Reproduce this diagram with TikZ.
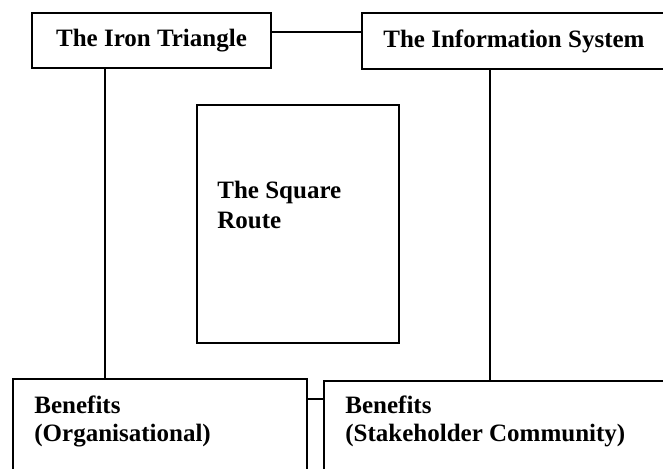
\documentclass[tikz,border=0pt]{standalone}
\usepackage{fontspec}
\setmainfont{Liberation Serif}
\begin{document}
\begin{tikzpicture}[x=0.5pt, y=-0.5pt,
    box/.style={draw, line width=0.9pt, inner sep=0pt, outer sep=0pt, anchor=north west},
    lbl/.style={font=\bfseries\fontsize{12.5}{14}\selectfont, align=left, inner sep=0pt, anchor=west}]
    \useasboundingbox (0,0) rectangle (663,468);

    \node[box, minimum width=119.5pt, minimum height=27.5pt, font=\bfseries\fontsize{12.5}{14}\selectfont] (iron) at (32,13) {The Iron Triangle};
    \node[box, minimum width=169pt, minimum height=28pt] (info) at (362,13) {};
    \node[box, minimum width=101pt, minimum height=119pt] (square) at (197,105) {};
    \node[box, minimum width=147pt, minimum height=60.5pt] (benorg) at (13,379) {};
    \node[box, minimum width=188pt, minimum height=59.5pt] (benstk) at (324,381) {};

    \node[lbl] (infotxt) at ([xshift=10.5pt]info.west) {The Information System};
    \node[lbl, font=\bfseries\fontsize{12.5}{15}\selectfont] (squaretxt) at ([xshift=10pt, yshift=-50pt]square.north west) {The Square\\Route};
    \node[lbl] (benorgtxt) at ([xshift=10.5pt, yshift=-21pt]benorg.north west) {Benefits\\(Organisational)};
    \node[lbl] (benstktxt) at ([xshift=10.5pt, yshift=-20pt]benstk.north west) {Benefits\\(Stakeholder Community)};

    \draw[line width=0.9pt] ([yshift=4.25pt]iron.east) -- ([yshift=4.25pt]iron.east -| info.west);
    \draw[line width=0.9pt] ([xshift=-23.25pt]iron.south) -- ([xshift=-23.25pt]iron.south |- benorg.north);
    \draw[line width=0.9pt] ([xshift=64pt]info.south west) -- ([xshift=64pt]info.south west |- benstk.north);
    \draw[line width=0.9pt] ([yshift=-10pt]benorg.north east) -- ([yshift=-10pt]benorg.north east -| benstk.west);
\end{tikzpicture}
\end{document}
